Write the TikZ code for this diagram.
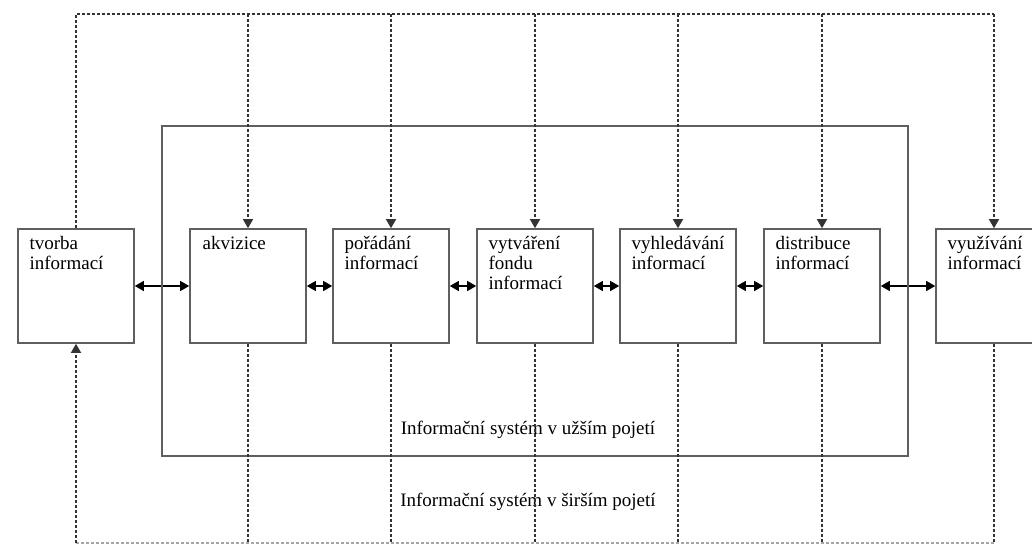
\documentclass[tikz,border=0pt]{standalone}
\usepackage{fontspec}
\setmainfont{Liberation Serif}
\usetikzlibrary{arrows.meta}
\definecolor{linegray}{RGB}{95,95,95}

\begin{document}
\begin{tikzpicture}[x=0.5pt, y=-0.5pt,
  stage/.style={draw=linegray, line width=0.8pt, minimum width=58pt, minimum height=57pt, inner sep=0pt},
  stagetext/.style={anchor=north west, align=left, inner sep=0pt, font=\fontsize{9.5}{10}\selectfont},
  flow/.style={{Triangle[length=4.5pt,width=5pt]}-{Triangle[length=4.5pt,width=5pt]}, line width=0.6pt},
  feed/.style={black!80, line width=0.7pt, dash pattern=on 1.5pt off 1pt},
  feedtip/.style={feed, -{Triangle[length=4.5pt,width=5pt]}}]

  \useasboundingbox (0,0) rectangle (1032,545);
  \clip (0,0) rectangle (1032,545);

  % stages
  \node[stage] (tvorba) at (76,286) {};
  \node[stage] (akvizice) at (248,286) {};
  \node[stage] (poradani) at (391,286) {};
  \node[stage] (fond) at (535,286) {};
  \node[stage] (vyhledavani) at (678,286) {};
  \node[stage] (distribuce) at (822,286) {};
  \node[stage] (vyuzivani) at (994,286) {};

  \node[stagetext] (tvorbaL) at ([shift={(6pt,-4pt)}]tvorba.north west) {tvorba\\informací};
  \node[stagetext] (akviziceL) at ([shift={(6.5pt,-4pt)}]akvizice.north west) {akvizice};
  \node[stagetext] (poradaniL) at ([shift={(6pt,-4pt)}]poradani.north west) {pořádání\\informací};
  \node[stagetext] (fondL) at ([shift={(6pt,-4pt)}]fond.north west) {vytváření\\fondu\\informací};
  \node[stagetext] (vyhledavaniL) at ([shift={(6pt,-4pt)}]vyhledavani.north west) {vyhledávání\\informací};
  \node[stagetext] (distribuceL) at ([shift={(6pt,-4pt)}]distribuce.north west) {distribuce\\informací};
  \node[stagetext] (vyuzivaniL) at ([shift={(6pt,-4pt)}]vyuzivani.north west) {využívání\\informací};

  \draw[flow]
   (tvorba) edge (akvizice)
   (akvizice) edge (poradani)
   (poradani) edge (fond)
   (fond) edge (vyhledavani)
   (vyhledavani) edge (distribuce)
   (distribuce) edge (vyuzivani);

  %narrow and wide system
  \draw[linegray, line width=0.8pt] (162,126) rectangle (908,456);
  \node[font=\fontsize{9.5}{10}\selectfont] (uzsi) at (528,430) {Informační systém v užším pojetí};
  \node[font=\fontsize{9.5}{10}\selectfont] (sirsi) at (528,502) {Informační systém v širším pojetí};

  %feedback loop
  \coordinate (top) at (994,14);
  \coordinate (bot) at (994,543);
  \draw[feed] (tvorba.north) |- (top);
  \draw[feedtip] (top) -- (vyuzivani.north);
  \draw[feedtip] (akvizice.north |- top) -- (akvizice.north);
  \draw[feedtip] (poradani.north |- top) -- (poradani.north);
  \draw[feedtip] (fond.north |- top) -- (fond.north);
  \draw[feedtip] (vyhledavani.north |- top) -- (vyhledavani.north);
  \draw[feedtip] (distribuce.north |- top) -- (distribuce.north);

  \draw[feed, black!35] (bot) -| (tvorba.south |- bot);
  \draw[feedtip] (tvorba.south |- bot) -- (tvorba.south);
  \draw[feed] (akvizice.south) -- (akvizice.south |- bot);
  \draw[feed] (poradani.south) -- (poradani.south |- bot);
  \draw[feed] (fond.south) -- (fond.south |- bot);
  \draw[feed] (vyhledavani.south) -- (vyhledavani.south |- bot);
  \draw[feed] (distribuce.south) -- (distribuce.south |- bot);
  \draw[feed] (vyuzivani.south) -- (bot);
\end{tikzpicture}
\end{document}
